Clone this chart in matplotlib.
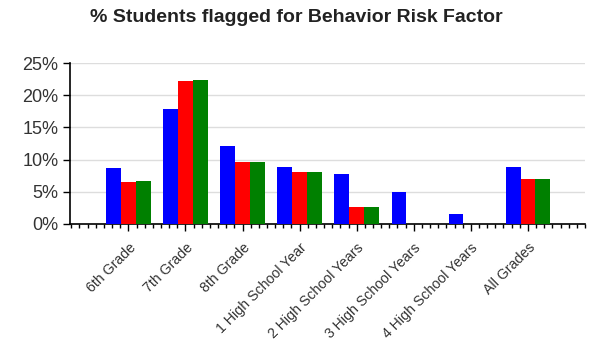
import numpy as np
import matplotlib.pyplot as plt
from matplotlib.ticker import MultipleLocator, PercentFormatter

plt.rcParams['font.family'] = ['Liberation Sans', 'DejaVu Sans']

# Share of students flagged, per grade group (three series)
grades = ["6th Grade", "7th Grade", "8th Grade", "1 High School Year",
          "2 High School Years", "3 High School Years", "4 High School Years",
          "All Grades"]
blue_vals = [8.7, 17.9, 12.1, 8.9, 7.7, 4.9, 1.5, 8.9]
red_vals = [6.5, 22.2, 9.6, 8.0, 2.7, 0.0, 0.0, 7.0]
green_vals = [6.7, 22.4, 9.6, 8.0, 2.7, 0.0, 0.0, 7.0]

fig = plt.figure(figsize=(6.05, 3.6), dpi=100)
ax = fig.add_axes([0.116, 0.378, 0.851, 0.447])

x = np.arange(len(grades))
w = 0.26
ax.bar(x - w, blue_vals, w, color="#0000ff", zorder=3)
ax.bar(x, red_vals, w, color="#ff0000", zorder=3)
ax.bar(x + w, green_vals, w, color="#008000", zorder=3)

ax.set_xlim(-1.02, 8.0)
ax.set_ylim(0, 25)
ax.yaxis.set_major_locator(MultipleLocator(5))
ax.yaxis.set_major_formatter(PercentFormatter(decimals=0))
ax.grid(axis="y", color="#dddddd", linewidth=1, zorder=0)

ax.set_xticks(x)
ax.set_xticklabels(grades, rotation=45, ha="right", rotation_mode="anchor",
                   fontsize=10.2, color="#333333")
ax.xaxis.set_minor_locator(MultipleLocator(1 / 7))
ax.tick_params(axis="x", which="major", length=5, width=1, direction="out",
               pad=7)
ax.tick_params(axis="x", which="minor", length=3, width=1, direction="out")
ax.tick_params(axis="y", length=5, width=1, labelsize=13, labelcolor="#333333")

for side in ["top", "right"]:
    ax.spines[side].set_visible(False)
ax.spines["left"].set_linewidth(1.2)
ax.spines["bottom"].set_linewidth(1.2)

fig.text(0.49, 0.95, "% Students flagged for Behavior Risk Factor",
         ha="center", va="center", fontsize=14, fontweight="bold",
         color="#222222")

fig.savefig("out.png", dpi=100)
